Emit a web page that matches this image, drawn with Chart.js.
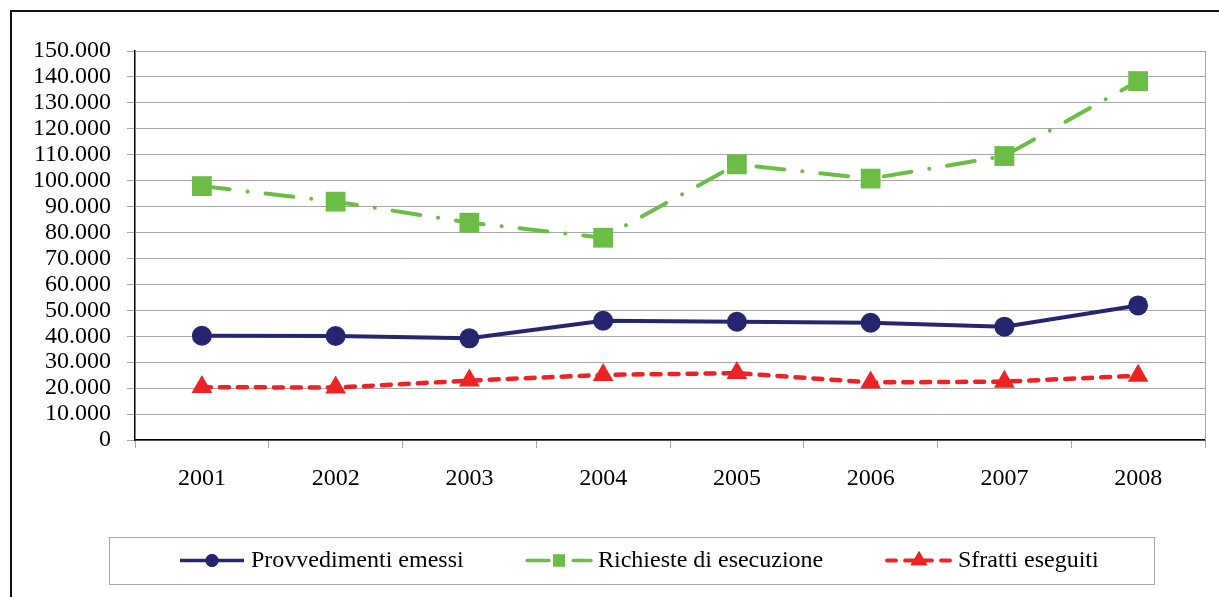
<!DOCTYPE html>
<html><head><meta charset="utf-8">
<script src="https://cdn.jsdelivr.net/npm/chart.js@4.4.1/dist/chart.umd.min.js"></script>
<style>
html,body{margin:0;padding:0;width:1219px;height:597px;overflow:hidden;background:#fff;}
#frame{position:absolute;left:10px;top:10px;width:1400px;height:800px;border:2px solid #111;box-sizing:border-box;}
#wrap{position:absolute;left:0;top:0;width:1219px;height:597px;}
</style></head><body>
<div id="frame"></div>
<div id="wrap"><canvas id="c" width="1219" height="597"></canvas></div>
<script>
// ---- data ----
const years = ['2001','2002','2003','2004','2005','2006','2007','2008'];
const provvedimenti = [40200, 40100, 39200, 46000, 45600, 45200, 43700, 51900];
const richieste = [97900, 91900, 83800, 78000, 106300, 100800, 109500, 138400];
const sfratti = [20400, 20200, 22900, 25100, 25800, 22200, 22500, 24800];
const seriesNames = ['Provvedimenti emessi', 'Richieste di esecuzione', 'Sfratti eseguiti'];
const yMin = 0, yMax = 150000, yStep = 10000;

const FONT = "'Liberation Serif', 'Times New Roman', serif";
Chart.defaults.font.family = FONT;

function fmt(v){ return String(v).replace(/\B(?=(\d{3})+(?!\d))/g, '.'); }

const rightEdge = {
  id:'rightEdge',
  beforeDatasetsDraw(chart){
    const {ctx, chartArea:a} = chart;
    ctx.save();
    ctx.strokeStyle = '#a6a6a6'; ctx.lineWidth = 1;
    ctx.beginPath(); ctx.moveTo(Math.round(a.right)+0.5, a.top); ctx.lineTo(Math.round(a.right)+0.5, a.bottom); ctx.stroke();
    ctx.restore();
  }
};

const boxLegend = {
  id:'boxLegend',
  afterDraw(chart){
    const ctx = chart.ctx;
    const box = {l:109, t:537, r:1154, b:584};
    ctx.save();
    ctx.strokeStyle = '#a6a6a6'; ctx.lineWidth = 1;
    ctx.strokeRect(box.l+0.5, box.t+0.5, box.r-box.l, box.b-box.t);
    ctx.font = '24px ' + FONT;
    ctx.textBaseline = 'middle';
    const sample = 68, tgap = 5;
    const starts = [178, 525, 885];
    const ds = chart.data.datasets;
    const cy = (box.t+box.b)/2;
    const mr = [6.5, 8.5, 9.6];
    ds.forEach((d,i)=>{
      const x = starts[i];
      ctx.save();
      ctx.strokeStyle = d.borderColor;
      ctx.lineWidth = d.borderWidth*0.85;
      ctx.lineCap = d.borderCapStyle || 'butt';
      ctx.setLineDash(d.legendDash || []);
      ctx.beginPath(); ctx.moveTo(x+2, cy); ctx.lineTo(x+sample-2, cy); ctx.stroke();
      ctx.setLineDash([]);
      ctx.fillStyle = d.backgroundColor;
      Chart.helpers.drawPoint(ctx, {pointStyle:d.pointStyle, rotation:0, radius:mr[i], borderWidth:0}, x+sample/2, cy);
      ctx.fill();
      ctx.restore();
      ctx.fillStyle = '#000';
      ctx.fillText(d.label, x+sample+tgap, cy);
    });
    ctx.restore();
  }
};

new Chart(document.getElementById('c'), {
  type:'line',
  data:{
    labels: years,
    datasets:[
      {label:seriesNames[0], data:provvedimenti, borderColor:'#262670', backgroundColor:'#262670',
       borderWidth:4, pointStyle:'circle', pointRadius:10, pointBorderWidth:0, tension:0},
      {label:seriesNames[1], data:richieste, borderColor:'#6cbd45', backgroundColor:'#6cbd45',
       borderWidth:4, borderDash:[28,18,0.1,18], borderCapStyle:'round', legendDash:[22,12,0.1,12],
       pointStyle:'rect', pointRadius:14, pointBorderWidth:0, tension:0},
      {label:seriesNames[2], data:sfratti, borderColor:'#ed2224', backgroundColor:'#ed2224',
       borderWidth:4.5, borderDash:[9,9], borderCapStyle:'round', legendDash:[9,9],
       pointStyle:'triangle', pointRadius:12, pointBorderWidth:0, tension:0}
    ]
  },
  options:{
    responsive:false, animation:false, events:[],
    layout:{padding:{left:0,right:13,top:51,bottom:0}},
    plugins:{legend:{display:false}, tooltip:{enabled:false}},
    scales:{
      x:{
        offset:true,
        grid:{offset:true, drawOnChartArea:false, tickLength:8, color:'#a6a6a6'},
        border:{color:'#000', width:1.5},
        ticks:{font:{size:24}, color:'#000', padding:16, maxRotation:0, autoSkip:false},
        afterFit(s){ s.height = 157; }
      },
      y:{
        min:yMin, max:yMax,
        ticks:{stepSize:yStep, font:{size:24}, color:'#000', padding:16, autoSkip:false, callback:(v)=>fmt(v)},
        grid:{color:'#a6a6a6', tickLength:8},
        border:{color:'#000', width:1.5},
        afterFit(s){ s.width = 135; }
      }
    }
  },
  plugins:[rightEdge, boxLegend]
});
</script>
</body></html>
